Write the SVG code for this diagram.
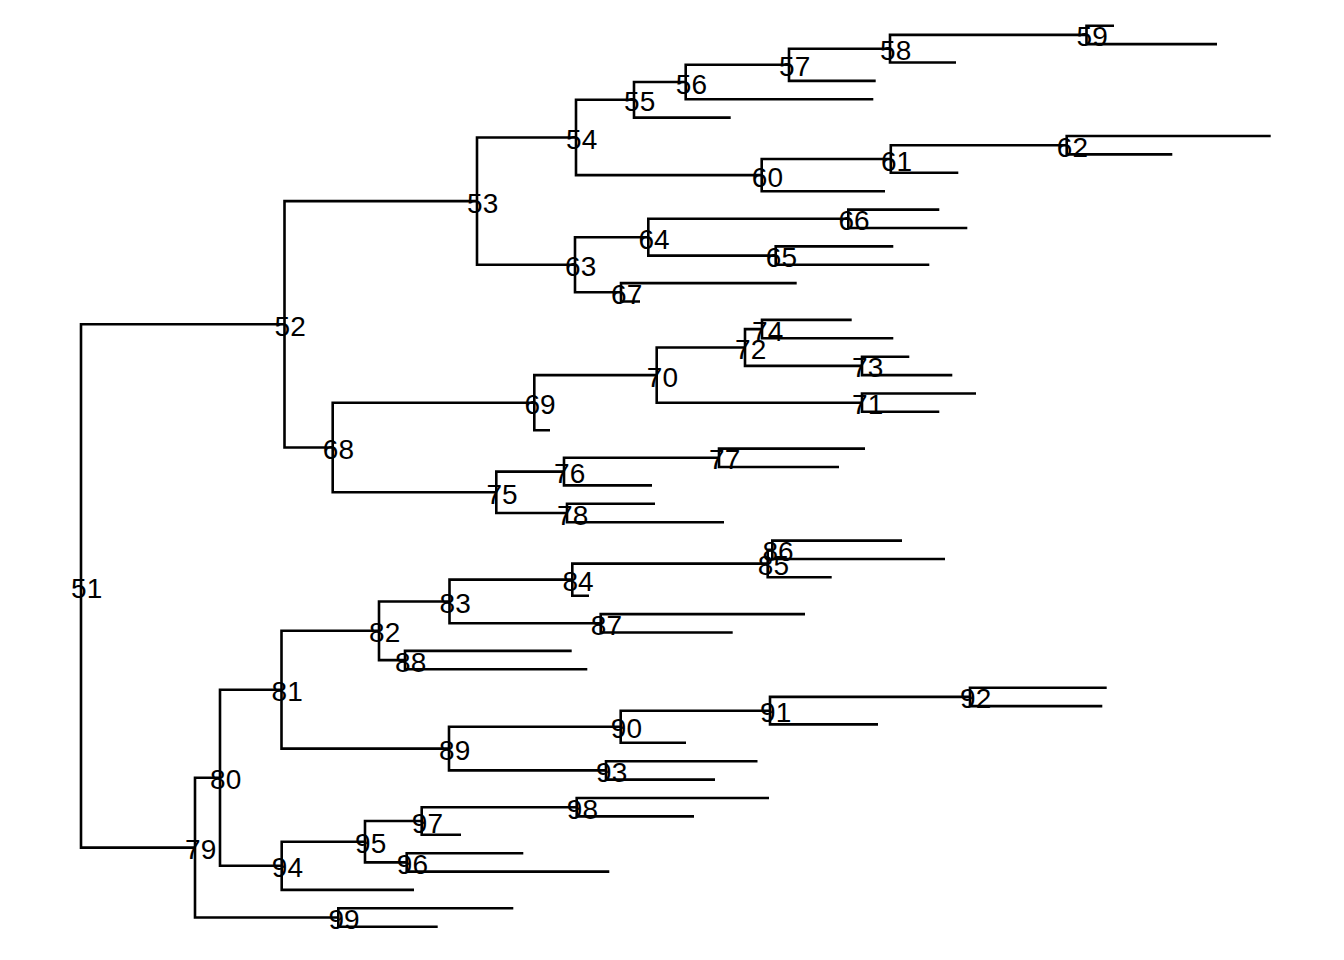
<svg xmlns="http://www.w3.org/2000/svg" width="1344" height="960" viewBox="0 0 1344 960">
<style>
.e{fill:none;stroke:#000;stroke-width:2.6;stroke-linejoin:miter;stroke-linecap:butt}
.l{font-family:"Liberation Sans",Arial,sans-serif;font-size:28px;fill:#000;text-anchor:middle}
</style>
<rect width="1344" height="960" fill="#fff"/>
<g id="connectors">
<path class="e" d="M284.5 324.3H81V847.6H195"/>
<path class="e" d="M477 201.1H284.5V447.5H332.7"/>
<path class="e" d="M576 137.5H477V264.7H575"/>
<path class="e" d="M634 99.8H576V175.1H761.7"/>
<path class="e" d="M685.7 82H634V117.6H730.7"/>
<path class="e" d="M789 64.8H685.7V99.2H873.3"/>
<path class="e" d="M890 48.7H789V80.9H875.7"/>
<path class="e" d="M1086.5 34.9H890V62.5H956"/>
<path class="e" d="M1114 25.7H1086.5V44.1H1217"/>
<path class="e" d="M890.8 159H761.7V191.2H885"/>
<path class="e" d="M1066.7 145.2H890.8V172.8H958.3"/>
<path class="e" d="M1270.7 136H1066.7V154.4H1172.3"/>
<path class="e" d="M648.3 237.2H575V292.3H621"/>
<path class="e" d="M848.3 218.8H648.3V255.6H775.7"/>
<path class="e" d="M939.3 209.6H848.3V228H967.3"/>
<path class="e" d="M893.3 246.4H775.7V264.7H929.3"/>
<path class="e" d="M796.7 283.1H621V301.5H640"/>
<path class="e" d="M534.3 402.7H332.7V492.3H496.3"/>
<path class="e" d="M656.7 375.1H534.3V430.2H550"/>
<path class="e" d="M745 347.5H656.7V402.7H862"/>
<path class="e" d="M762 329.1H745V365.9H862"/>
<path class="e" d="M851.7 319.9H762V338.3H893.3"/>
<path class="e" d="M909.3 356.7H862V375.1H952.3"/>
<path class="e" d="M976 393.5H862V411.8H939.3"/>
<path class="e" d="M564 471.6H496.3V513H567"/>
<path class="e" d="M719 457.8H564V485.4H652"/>
<path class="e" d="M865 448.6H719V467H839"/>
<path class="e" d="M655 503.8H567V522.2H724"/>
<path class="e" d="M220 777.8H195V917.5H338.3"/>
<path class="e" d="M281.5 689.7H220V865.8H281.7"/>
<path class="e" d="M379 630.8H281.5V748.6H449"/>
<path class="e" d="M449.5 601.5H379V660.1H405"/>
<path class="e" d="M572.3 579.6H449.5V623.3H600.7"/>
<path class="e" d="M767.7 563.6H572.3V595.7H589"/>
<path class="e" d="M772.3 549.8H767.7V577.3H831.7"/>
<path class="e" d="M902 540.6H772.3V559H945"/>
<path class="e" d="M805 614.1H600.7V632.5H732.7"/>
<path class="e" d="M571.7 650.9H405V669.3H587.3"/>
<path class="e" d="M620.7 726.8H449V770.4H606"/>
<path class="e" d="M770 710.7H620.7V742.8H686"/>
<path class="e" d="M970 696.9H770V724.4H878"/>
<path class="e" d="M1106.7 687.7H970V706.1H1102.3"/>
<path class="e" d="M757.5 761.2H606V779.6H715"/>
<path class="e" d="M365 841.7H281.7V889.9H414"/>
<path class="e" d="M421.7 821H365V862.4H406.7"/>
<path class="e" d="M576.7 807.2H421.7V834.8H461"/>
<path class="e" d="M769 798H576.7V816.4H694"/>
<path class="e" d="M523.3 853.2H406.7V871.6H609.3"/>
<path class="e" d="M513.3 908.3H338.3V926.7H437.7"/>
</g>
<g id="n51"><text class="l" x="86.7" y="597.5">51</text></g>
<g id="n52"><text class="l" x="290.2" y="335.8">52</text></g>
<g id="n53"><text class="l" x="482.7" y="212.6">53</text></g>
<g id="n54"><text class="l" x="581.7" y="149">54</text></g>
<g id="n55"><text class="l" x="639.7" y="111.3">55</text></g>
<g id="n56"><text class="l" x="691.4" y="93.5">56</text></g>
<g id="n57"><text class="l" x="794.7" y="76.3">57</text></g>
<g id="n58"><text class="l" x="895.7" y="60.2">58</text></g>
<g id="n59"><text class="l" x="1092.2" y="46.4">59</text></g>
<g id="n60"><text class="l" x="767.4" y="186.6">60</text></g>
<g id="n61"><text class="l" x="896.5" y="170.5">61</text></g>
<g id="n62"><text class="l" x="1072.4" y="156.7">62</text></g>
<g id="n63"><text class="l" x="580.7" y="276.2">63</text></g>
<g id="n64"><text class="l" x="654" y="248.7">64</text></g>
<g id="n65"><text class="l" x="781.4" y="267.1">65</text></g>
<g id="n66"><text class="l" x="854" y="230.3">66</text></g>
<g id="n67"><text class="l" x="626.7" y="303.8">67</text></g>
<g id="n68"><text class="l" x="338.4" y="459">68</text></g>
<g id="n69"><text class="l" x="540" y="414.2">69</text></g>
<g id="n70"><text class="l" x="662.4" y="386.6">70</text></g>
<g id="n71"><text class="l" x="867.7" y="414.2">71</text></g>
<g id="n72"><text class="l" x="750.7" y="359">72</text></g>
<g id="n73"><text class="l" x="867.7" y="377.4">73</text></g>
<g id="n74"><text class="l" x="767.7" y="340.6">74</text></g>
<g id="n75"><text class="l" x="502" y="503.8">75</text></g>
<g id="n76"><text class="l" x="569.7" y="483.1">76</text></g>
<g id="n77"><text class="l" x="724.7" y="469.3">77</text></g>
<g id="n78"><text class="l" x="572.7" y="524.5">78</text></g>
<g id="n79"><text class="l" x="200.7" y="859.1">79</text></g>
<g id="n80"><text class="l" x="225.7" y="789.3">80</text></g>
<g id="n81"><text class="l" x="287.2" y="701.2">81</text></g>
<g id="n82"><text class="l" x="384.7" y="642.3">82</text></g>
<g id="n83"><text class="l" x="455.2" y="613">83</text></g>
<g id="n84"><text class="l" x="578" y="591.1">84</text></g>
<g id="n85"><text class="l" x="773.4" y="575.1">85</text></g>
<g id="n86"><text class="l" x="778" y="561.3">86</text></g>
<g id="n87"><text class="l" x="606.4" y="634.8">87</text></g>
<g id="n88"><text class="l" x="410.7" y="671.6">88</text></g>
<g id="n89"><text class="l" x="454.7" y="760.1">89</text></g>
<g id="n90"><text class="l" x="626.4" y="738.3">90</text></g>
<g id="n91"><text class="l" x="775.7" y="722.2">91</text></g>
<g id="n92"><text class="l" x="975.7" y="708.4">92</text></g>
<g id="n93"><text class="l" x="611.7" y="781.9">93</text></g>
<g id="n94"><text class="l" x="287.4" y="877.3">94</text></g>
<g id="n95"><text class="l" x="370.7" y="853.2">95</text></g>
<g id="n96"><text class="l" x="412.4" y="873.9">96</text></g>
<g id="n97"><text class="l" x="427.4" y="832.5">97</text></g>
<g id="n98"><text class="l" x="582.4" y="818.7">98</text></g>
<g id="n99"><text class="l" x="344" y="929">99</text></g>
</svg>
